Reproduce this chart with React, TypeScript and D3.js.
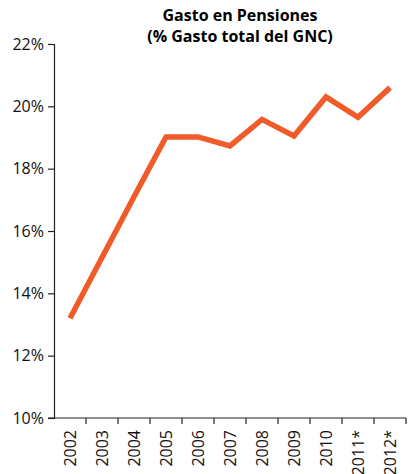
import { useEffect, useRef } from 'react';
import * as d3 from 'd3';

// Data
const years = ['2002', '2003', '2004', '2005', '2006', '2007', '2008', '2009', '2010', '2011*', '2012*'];
const pensionShare = [13.2, 15.15, 17.1, 19.02, 19.02, 18.73, 19.58, 19.05, 20.3, 19.65, 20.6];
const yTicks = [10, 12, 14, 16, 18, 20, 22];
const titleLines = ['Gasto en Pensiones', '(% Gasto total del GNC)'];

const W = 408;
const H = 474;

const App = () => {
  const ref = useRef<SVGSVGElement>(null);

  useEffect(() => {
    if (!ref.current) return;
    const svg = d3.select(ref.current);
    svg.selectAll('*').remove();

    const font = "'Open Sans', 'Noto Sans', sans-serif";
    const axisColor = '#231f20';

    const x = d3.scaleBand<string>().domain(years).range([54, 406]);
    const y = d3.scaleLinear().domain([10, 22]).range([418, 44]);

    // title
    svg.append('g')
      .selectAll('text')
      .data(titleLines)
      .join('text')
      .attr('x', 240)
      .attr('y', (d, i) => 21 + i * 21)
      .attr('text-anchor', 'middle')
      .style('font-family', font)
      .style('font-size', '16px')
      .style('font-weight', 'bold')
      .style('fill', '#000')
      .text(d => d);

    // y axis
    const yAxis = svg.append('g')
      .attr('transform', 'translate(54,0)')
      .call(d3.axisLeft(y).tickValues(yTicks).tickSize(6).tickPadding(4).tickFormat(d => `${d}%`));
    yAxis.select('.domain').attr('stroke', axisColor).attr('stroke-width', 1.2);
    yAxis.selectAll('.tick line').attr('stroke', axisColor).attr('stroke-width', 1.2);
    yAxis.selectAll('text')
      .style('font-family', font)
      .style('font-size', '16px')
      .style('fill', '#111');

    // x axis: ticks at band edges
    const xg = svg.append('g').attr('transform', 'translate(0,418)');
    xg.append('line')
      .attr('x1', 48).attr('x2', 406)
      .attr('stroke', axisColor).attr('stroke-width', 1.2);
    xg.selectAll('line.tk')
      .data(years)
      .join('line')
      .attr('class', 'tk')
      .attr('x1', d => (x(d) as number) + x.bandwidth())
      .attr('x2', d => (x(d) as number) + x.bandwidth())
      .attr('y1', 0).attr('y2', 6)
      .attr('stroke', axisColor).attr('stroke-width', 1.2);
    xg.selectAll('text')
      .data(years)
      .join('text')
      .attr('transform', d => `translate(${(x(d) as number) + x.bandwidth() / 2 + 6},12) rotate(-90)`)
      .attr('text-anchor', 'end')
      .style('font-family', font)
      .style('font-size', '16px')
      .style('fill', '#111')
      .text(d => d);

    // line
    const line = d3.line<number>()
      .x((d, i) => (x(years[i]) as number) + x.bandwidth() / 2)
      .y(d => y(d));

    svg.append('path')
      .datum(pensionShare)
      .attr('d', line)
      .attr('fill', 'none')
      .attr('stroke', '#f15a29')
      .attr('stroke-width', 5.5)
      .attr('stroke-linejoin', 'miter');
  }, []);

  return (
    <svg
      ref={ref}
      width={W}
      height={H}
      style={{ position: 'absolute', left: 0, top: 0, background: '#fff' }}
    />
  );
};

export default App;
